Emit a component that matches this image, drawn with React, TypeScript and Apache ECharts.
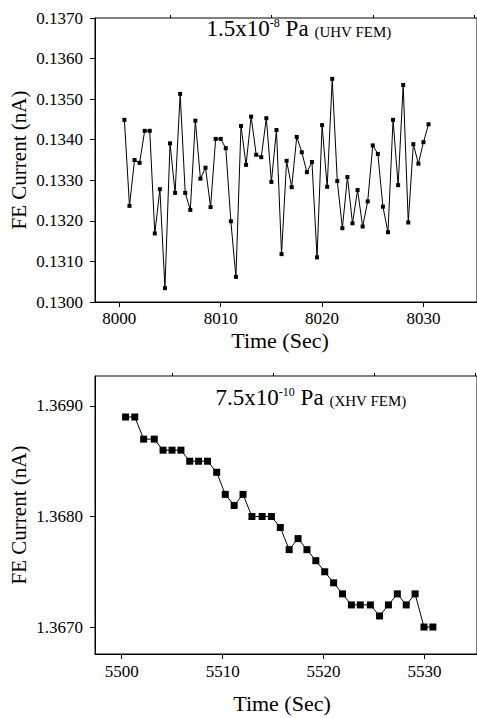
import React, { useEffect, useRef } from "react";
import * as echarts from "echarts";

// ---- UHV FEM (1.5x10^-8 Pa) ----
const uhvTime = [
  8000.5, 8001.0, 8001.5, 8002.0, 8002.5, 8003.0, 8003.5, 8004.0, 8004.5, 8005.0,
  8005.5, 8006.0, 8006.5, 8007.0, 8007.5, 8008.0, 8008.5, 8009.0, 8009.5, 8010.0,
  8010.5, 8011.0, 8011.5, 8012.0, 8012.5, 8013.0, 8013.5, 8014.0, 8014.5, 8015.0,
  8015.5, 8016.0, 8016.5, 8017.0, 8017.5, 8018.0, 8018.5, 8019.0, 8019.5, 8020.0,
  8020.5, 8021.0, 8021.5, 8022.0, 8022.5, 8023.0, 8023.5, 8024.0, 8024.5, 8025.0,
  8025.5, 8026.0, 8026.5, 8027.0, 8027.5, 8028.0, 8028.5, 8029.0, 8029.5, 8030.0,
  8030.5,
];
const uhvCurrent = [
  0.13449, 0.13237, 0.1335, 0.13343, 0.13422, 0.13422, 0.13169, 0.13278, 0.13034, 0.13391,
  0.13269, 0.13513, 0.13269, 0.13227, 0.13447, 0.13304, 0.13331, 0.13234, 0.13402, 0.13402,
  0.13379, 0.13199, 0.13062, 0.13434, 0.13338, 0.13457, 0.13363, 0.13357, 0.13453, 0.13296,
  0.13424, 0.13118, 0.13348, 0.13283, 0.13407, 0.13369, 0.1332, 0.13345, 0.1311, 0.13436,
  0.13284, 0.1355, 0.13298, 0.13182, 0.13308, 0.13194, 0.13276, 0.13186, 0.13248, 0.13386,
  0.13365, 0.13235, 0.13172, 0.13449, 0.13288, 0.13535, 0.13196, 0.13389, 0.13341, 0.13394,
  0.13438,
];
const uhvYTicks = [0.13, 0.131, 0.132, 0.133, 0.134, 0.135, 0.136, 0.137];
const uhvYMinor = [0.1305, 0.1315, 0.1325, 0.1335, 0.1345, 0.1355, 0.1365];
const uhvXTicks = [8000, 8010, 8020, 8030];
const uhvXMinor = [8005, 8015, 8025, 8035];

// ---- XHV FEM (7.5x10^-10 Pa) ----
const xhvTime = [
  5500.39, 5501.3, 5502.18, 5503.23, 5504.1, 5504.99, 5505.87, 5506.74, 5507.62, 5508.5,
  5509.41, 5510.26, 5511.14, 5512.02, 5512.9, 5513.91, 5514.83, 5515.71, 5516.59, 5517.47,
  5518.35, 5519.23, 5520.11, 5520.99, 5521.87, 5522.75, 5523.63, 5524.63, 5525.54, 5526.42,
  5527.3, 5528.18, 5529.06, 5529.94, 5530.82,
];
const xhvCurrent = [
  1.3689, 1.3689, 1.3687, 1.3687, 1.3686, 1.3686, 1.3686, 1.3685, 1.3685, 1.3685,
  1.3684, 1.3682, 1.3681, 1.3682, 1.368, 1.368, 1.368, 1.3679, 1.3677, 1.3678,
  1.3677, 1.3676, 1.3675, 1.3674, 1.3673, 1.3672, 1.3672, 1.3672, 1.3671, 1.3672,
  1.3673, 1.3672, 1.3673, 1.367, 1.367,
];
const xhvYTicks = [1.367, 1.368, 1.369];
const xhvYMinor = [1.3675, 1.3685];
const xhvXTicks = [5500, 5510, 5520, 5530];
const xhvXMinor = [5505, 5515, 5525, 5535];

const FONT = "'Liberation Serif', 'Times New Roman', serif";

function majorAxis(grid: number, min: number, max: number, ticks: number[], fmt: (v: number) => string, margin: number) {
  return {
    type: "value",
    gridIndex: grid,
    min,
    max,
    axisLine: { show: true, lineStyle: { color: "#000", width: 1 } },
    axisTick: { show: true, customValues: ticks, length: 5, lineStyle: { color: "#000", width: 1 } },
    axisLabel: {
      show: true,
      customValues: ticks,
      formatter: fmt,
      fontFamily: FONT,
      fontSize: 17,
      color: "#000",
      margin,
    },
    splitLine: { show: false },
  };
}
function minorAxis(grid: number, min: number, max: number, ticks: number[]) {
  return {
    type: "value",
    gridIndex: grid,
    min,
    max,
    axisLine: { show: false },
    axisTick: { show: true, customValues: ticks, length: 3, lineStyle: { color: "#000", width: 1 } },
    axisLabel: { show: false },
    splitLine: { show: false },
  };
}

export default function App() {
  const ref = useRef<HTMLDivElement>(null);
  useEffect(() => {
    if (!ref.current) return;
    const chart = echarts.init(ref.current, undefined, { renderer: "svg" });
    const fy = (v: number) => v.toFixed(4);
    const fx = (v: number) => String(Math.round(v));
    const uhvXMin = 7997.6, uhvXMax = 8035.28;
    const xhvXMin = 5497.36, xhvXMax = 5535.19;
    const xhvYMin = 1.366756, xhvYMax = 1.369271;
    const titleRich = {
      m: { fontFamily: FONT, fontSize: 23, verticalAlign: "bottom", fill: "#000" },
      s: { fontFamily: FONT, fontSize: 12, verticalAlign: "top", fill: "#000" },
      p: { fontFamily: FONT, fontSize: 15, verticalAlign: "bottom", fill: "#000" },
    };
    chart.setOption({
      animation: false,
      backgroundColor: "#fff",
      grid: [
        { left: 95, top: 18, width: 387, height: 284, show: true, borderColor: "#000", borderWidth: 1, containLabel: false },
        { left: 95, top: 376, width: 387, height: 278, show: true, borderColor: "#000", borderWidth: 1, containLabel: false },
      ],
      xAxis: [
        majorAxis(0, uhvXMin, uhvXMax, uhvXTicks, fx, 8),
        minorAxis(0, uhvXMin, uhvXMax, uhvXMinor),
        majorAxis(1, xhvXMin, xhvXMax, xhvXTicks, fx, 9),
        minorAxis(1, xhvXMin, xhvXMax, xhvXMinor),
      ],
      yAxis: [
        majorAxis(0, 0.13, 0.137, uhvYTicks, fy, 12),
        minorAxis(0, 0.13, 0.137, uhvYMinor),
        majorAxis(1, xhvYMin, xhvYMax, xhvYTicks, fy, 12),
        minorAxis(1, xhvYMin, xhvYMax, xhvYMinor),
      ],
      series: [
        {
          type: "line",
          xAxisIndex: 0,
          yAxisIndex: 0,
          data: uhvTime.map((t, i) => [t, uhvCurrent[i]]),
          symbol: "rect",
          symbolSize: 4,
          showAllSymbol: true,
          lineStyle: { color: "#000", width: 1 },
          itemStyle: { color: "#000" },
        },
        {
          type: "line",
          xAxisIndex: 2,
          yAxisIndex: 2,
          data: xhvTime.map((t, i) => [t, xhvCurrent[i]]),
          symbol: "rect",
          symbolSize: 7,
          showAllSymbol: true,
          lineStyle: { color: "#000", width: 1 },
          itemStyle: { color: "#000" },
        },
      ],
      graphic: [
        {
          type: "text",
          x: 19,
          y: 160,
          rotation: Math.PI / 2,
          style: { text: "FE Current (nA)", font: `21px ${FONT}`, fill: "#000", textAlign: "center", textVerticalAlign: "middle" },
        },
        {
          type: "text",
          x: 19,
          y: 515,
          rotation: Math.PI / 2,
          style: { text: "FE Current (nA)", font: `21px ${FONT}`, fill: "#000", textAlign: "center", textVerticalAlign: "middle" },
        },
        {
          type: "text",
          x: 280,
          y: 340,
          style: { text: "Time (Sec)", font: `22px ${FONT}`, fill: "#000", textAlign: "center", textVerticalAlign: "middle" },
        },
        {
          type: "text",
          x: 282,
          y: 703,
          style: { text: "Time (Sec)", font: `22px ${FONT}`, fill: "#000", textAlign: "center", textVerticalAlign: "middle" },
        },
        {
          type: "text",
          x: 299,
          y: 28,
          style: {
            text: "{m|1.5x10}{s|-8}{m| Pa }{p|(UHV FEM)}",
            textAlign: "center",
            textVerticalAlign: "middle",
            fill: "#000",
            rich: titleRich,
          },
        },
        {
          type: "text",
          x: 311,
          y: 397,
          style: {
            text: "{m|7.5x10}{s|-10}{m| Pa }{p|(XHV FEM)}",
            textAlign: "center",
            textVerticalAlign: "middle",
            fill: "#000",
            rich: titleRich,
          },
        },
      ],
    });
    return () => chart.dispose();
  }, []);
  return (
    <div
      ref={ref}
      style={{ position: "absolute", left: 0, top: 0, width: 477, height: 718 }}
    />
  );
}
